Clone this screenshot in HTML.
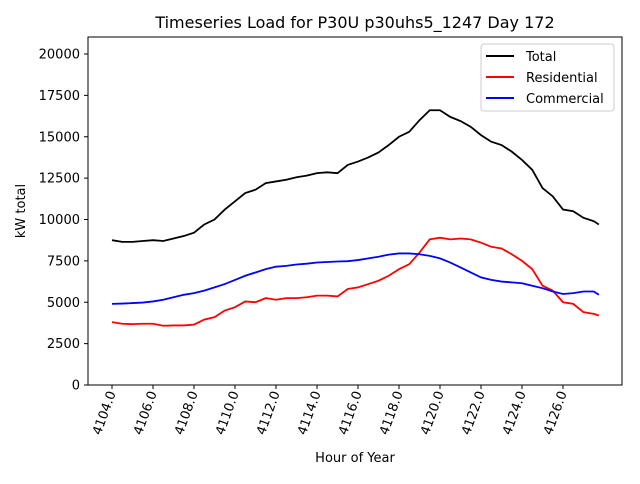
<!DOCTYPE html>
<html><head><meta charset="utf-8"><style>
body{margin:0;background:#fff;font-family:"DejaVu Sans","Liberation Sans",sans-serif}
svg text{font-family:"DejaVu Sans","Liberation Sans",sans-serif}
</style></head><body>
<svg id="c" width="640" height="480" xmlns="http://www.w3.org/2000/svg">
<rect width="640" height="480" fill="#fff"/>
<text x="355" y="28" font-size="16" text-anchor="middle">Timeseries Load for P30U p30uhs5_1247  Day 172</text>
<text x="355" y="462" font-size="13" text-anchor="middle">Hour of Year</text>
<text transform="translate(25,211) rotate(-90)" font-size="13" text-anchor="middle">kW total</text>
<g id="ticks"></g>
<g id="lines"></g>
<rect x="88" y="37" width="534" height="348" fill="none" stroke="#000" stroke-width="1"/>
<g>
<rect x="481" y="44" width="133" height="67" rx="3" fill="#fff" fill-opacity="0.8" stroke="#ccc"/>
<line x1="486" y1="56" x2="514" y2="56" stroke="#000" stroke-width="2"/>
<text x="526" y="61" font-size="13">Total</text>
<line x1="486" y1="77" x2="514" y2="77" stroke="#f00" stroke-width="2"/>
<text x="526" y="82" font-size="13">Residential</text>
<line x1="486" y1="98" x2="514" y2="98" stroke="#00f" stroke-width="2"/>
<text x="526" y="103" font-size="13">Commercial</text>
</g>
</svg>
<script>
const hours=[4104,4104.5,4105,4105.5,4106,4106.5,4107,4107.5,4108,4108.5,4109,4109.5,4110,4110.5,4111,4111.5,4112,4112.5,4113,4113.5,4114,4114.5,4115,4115.5,4116,4116.5,4117,4117.5,4118,4118.5,4119,4119.5,4120,4120.5,4121,4121.5,4122,4122.5,4123,4123.5,4124,4124.5,4125,4125.5,4126,4126.5,4127,4127.5,4127.75];
const total=[8750,8650,8650,8700,8750,8700,8850,9000,9200,9700,10000,10600,11100,11600,11800,12200,12300,12400,12550,12650,12800,12850,12800,13300,13500,13750,14050,14500,15000,15300,16000,16600,16600,16200,15950,15600,15100,14700,14500,14100,13600,13000,11900,11400,10600,10500,10100,9900,9700];
const residential=[3800,3700,3680,3700,3700,3580,3600,3600,3650,3950,4100,4500,4700,5050,5000,5250,5150,5250,5250,5300,5400,5400,5350,5800,5900,6100,6300,6600,7000,7300,8000,8800,8900,8800,8850,8800,8600,8350,8250,7900,7500,7000,6000,5700,5000,4900,4400,4300,4200];
const commercial=[4900,4920,4950,4980,5050,5150,5300,5450,5550,5700,5900,6100,6350,6600,6800,7000,7150,7200,7280,7330,7400,7430,7460,7480,7550,7650,7750,7880,7950,7950,7900,7800,7650,7400,7100,6800,6500,6350,6250,6200,6150,6000,5850,5650,5500,5550,5650,5650,5450];
const xTicks=[4104,4106,4108,4110,4112,4114,4116,4118,4120,4122,4124,4126];
const yTicks=[0,2500,5000,7500,10000,12500,15000,17500,20000];
const NS="http://www.w3.org/2000/svg";
const X=h=>112+(h-4104)*20.5;
const Y=v=>385-v*(331/20000);
const tg=document.getElementById('ticks');
xTicks.forEach(t=>{
  const l=document.createElementNS(NS,'line');
  l.setAttribute('x1',X(t));l.setAttribute('x2',X(t));l.setAttribute('y1',385);l.setAttribute('y2',389);l.setAttribute('stroke','#000');
  
  
  tg.appendChild(l);
  const s=document.createElementNS(NS,'text');
  s.setAttribute('transform',`translate(${X(t)+4},393) rotate(-70)`);
  s.setAttribute('text-anchor','end');s.setAttribute('font-size','13');
  s.textContent=t.toFixed(1);
  
  
  tg.appendChild(s);
});
yTicks.forEach(t=>{
  const l=document.createElementNS(NS,'line');
  l.setAttribute('x1',84);l.setAttribute('x2',88);l.setAttribute('y1',Y(t));l.setAttribute('y2',Y(t));l.setAttribute('stroke','#000');
  
  
  tg.appendChild(l);
  const s=document.createElementNS(NS,'text');
  s.setAttribute('x',80);s.setAttribute('y',Y(t)+4.5);
  s.setAttribute('text-anchor','end');s.setAttribute('font-size','13');
  s.textContent=t;
  
  
  tg.appendChild(s);
});
const lg=document.getElementById('lines');
[[total,'#000','total-line'],[residential,'#f00','residential-line'],[commercial,'#00f','commercial-line']].forEach(([d,c,n])=>{
  const p=document.createElementNS(NS,'polyline');
  p.setAttribute('points',d.map((v,i)=>X(hours[i])+','+Y(v)).join(' '));
  p.setAttribute('fill','none');p.setAttribute('stroke',c);p.setAttribute('stroke-width','1.8');
  
  
  lg.appendChild(p);
});
</script>
</body></html>
